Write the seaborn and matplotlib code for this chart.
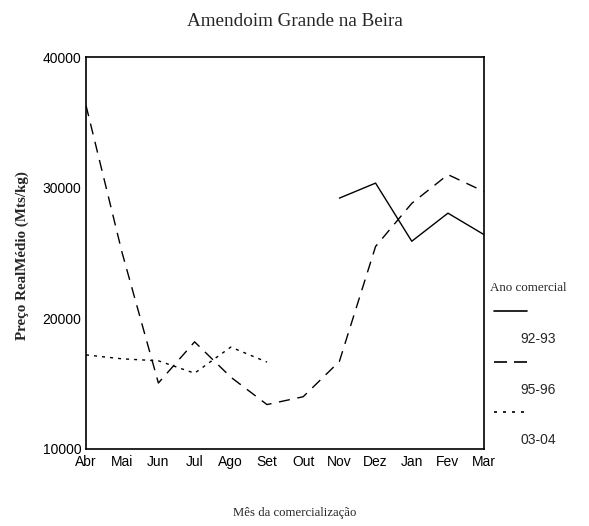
"""Amendoim Grande na Beira - preço real médio por mês."""

import matplotlib.pyplot as plt
import pandas as pd
import seaborn as sns
from matplotlib.lines import Line2D

meses = ["Abr", "Mai", "Jun", "Jul", "Ago", "Set", "Out", "Nov", "Dez", "Jan", "Fev", "Mar"]

anos = ["92-93", "95-96", "03-04"]
preco_9293 = [None, None, None, None, None, None, None, 29200, 30350, 25900, 28050, 26400]
preco_9596 = [36300, 25000, 15050, 18200, 15500, 13400, 14000, 16700, 25500, 28800, 31000, 29700]
preco_0304 = [17200, 16900, 16750, 15800, 17800, 16650, None, None, None, None, None, None]

rows = []
for ano, valores in zip(anos, [preco_9293, preco_9596, preco_0304]):
    for i, (mes, v) in enumerate(zip(meses, valores)):
        if v is not None:
            rows.append({"pos": i, "mes": mes, "preco": v, "ano": ano})
df = pd.DataFrame(rows)

sns.set_style("white")
serif = ["Liberation Serif", "DejaVu Serif"]
sans = ["Liberation Sans", "DejaVu Sans"]
plt.rcParams["font.family"] = sans

dashes = {"92-93": "", "95-96": (8, 5.5), "03-04": (2.2, 3.6)}
leg_dashes = {"92-93": "-", "95-96": (0, (7.8, 4.2)), "03-04": (0, (1.8, 3.6))}

fig = plt.figure(figsize=(5.89, 5.26), dpi=100)
ax = fig.add_axes([0.146, 0.1464, 0.676, 0.7452])
sns.lineplot(data=df, x="pos", y="preco", style="ano", style_order=anos,
             dashes=dashes, color="black", linewidth=1.0, legend=False,
             estimator=None, ax=ax)

ax.set_xlim(0, len(meses) - 1)
ax.set_ylim(10000, 40000)
ax.set_xticks(range(len(meses)))
ax.set_xticklabels(meses)
ax.set_yticks([10000, 20000, 30000, 40000])
ax.tick_params(axis="both", direction="inout", length=5, width=2.5,
               labelsize=10, colors="black", pad=2)
ax.tick_params(axis="y", pad=1)
for s in ax.spines.values():
    s.set_color("black")
    s.set_linewidth(1.2)
ax.set_xlabel("")
ax.set_ylabel("")

fig.text(0.5, 0.96, "Amendoim Grande na Beira", ha="center", va="center",
         family=serif, fontsize=13.8)
fig.text(0.5, 0.025, "Mês da comercialização", ha="center", va="center",
         family=serif, fontsize=9.2)
fig.text(0.037, 0.515, "Preço RealMédio (Mts/kg)", ha="center", va="center",
         rotation=90, family=serif, fontsize=10.8, fontweight="bold")

# legenda manual: amostra de linha numa linha, rótulo por baixo
fig.text(0.832, 0.452, "Ano comercial", ha="left", va="center",
         family=serif, fontsize=9.4)
ys = [0.409, 0.312, 0.217]
for ano, y in zip(anos, ys):
    fig.add_artist(Line2D([0.839, 0.895], [y, y], color="black",
                          linewidth=1.2, linestyle=leg_dashes[ano]))
    fig.text(0.884, y - 0.054, ano, ha="left", va="center", fontsize=10)

fig.savefig("out.png", dpi=100)
plt.close(fig)
